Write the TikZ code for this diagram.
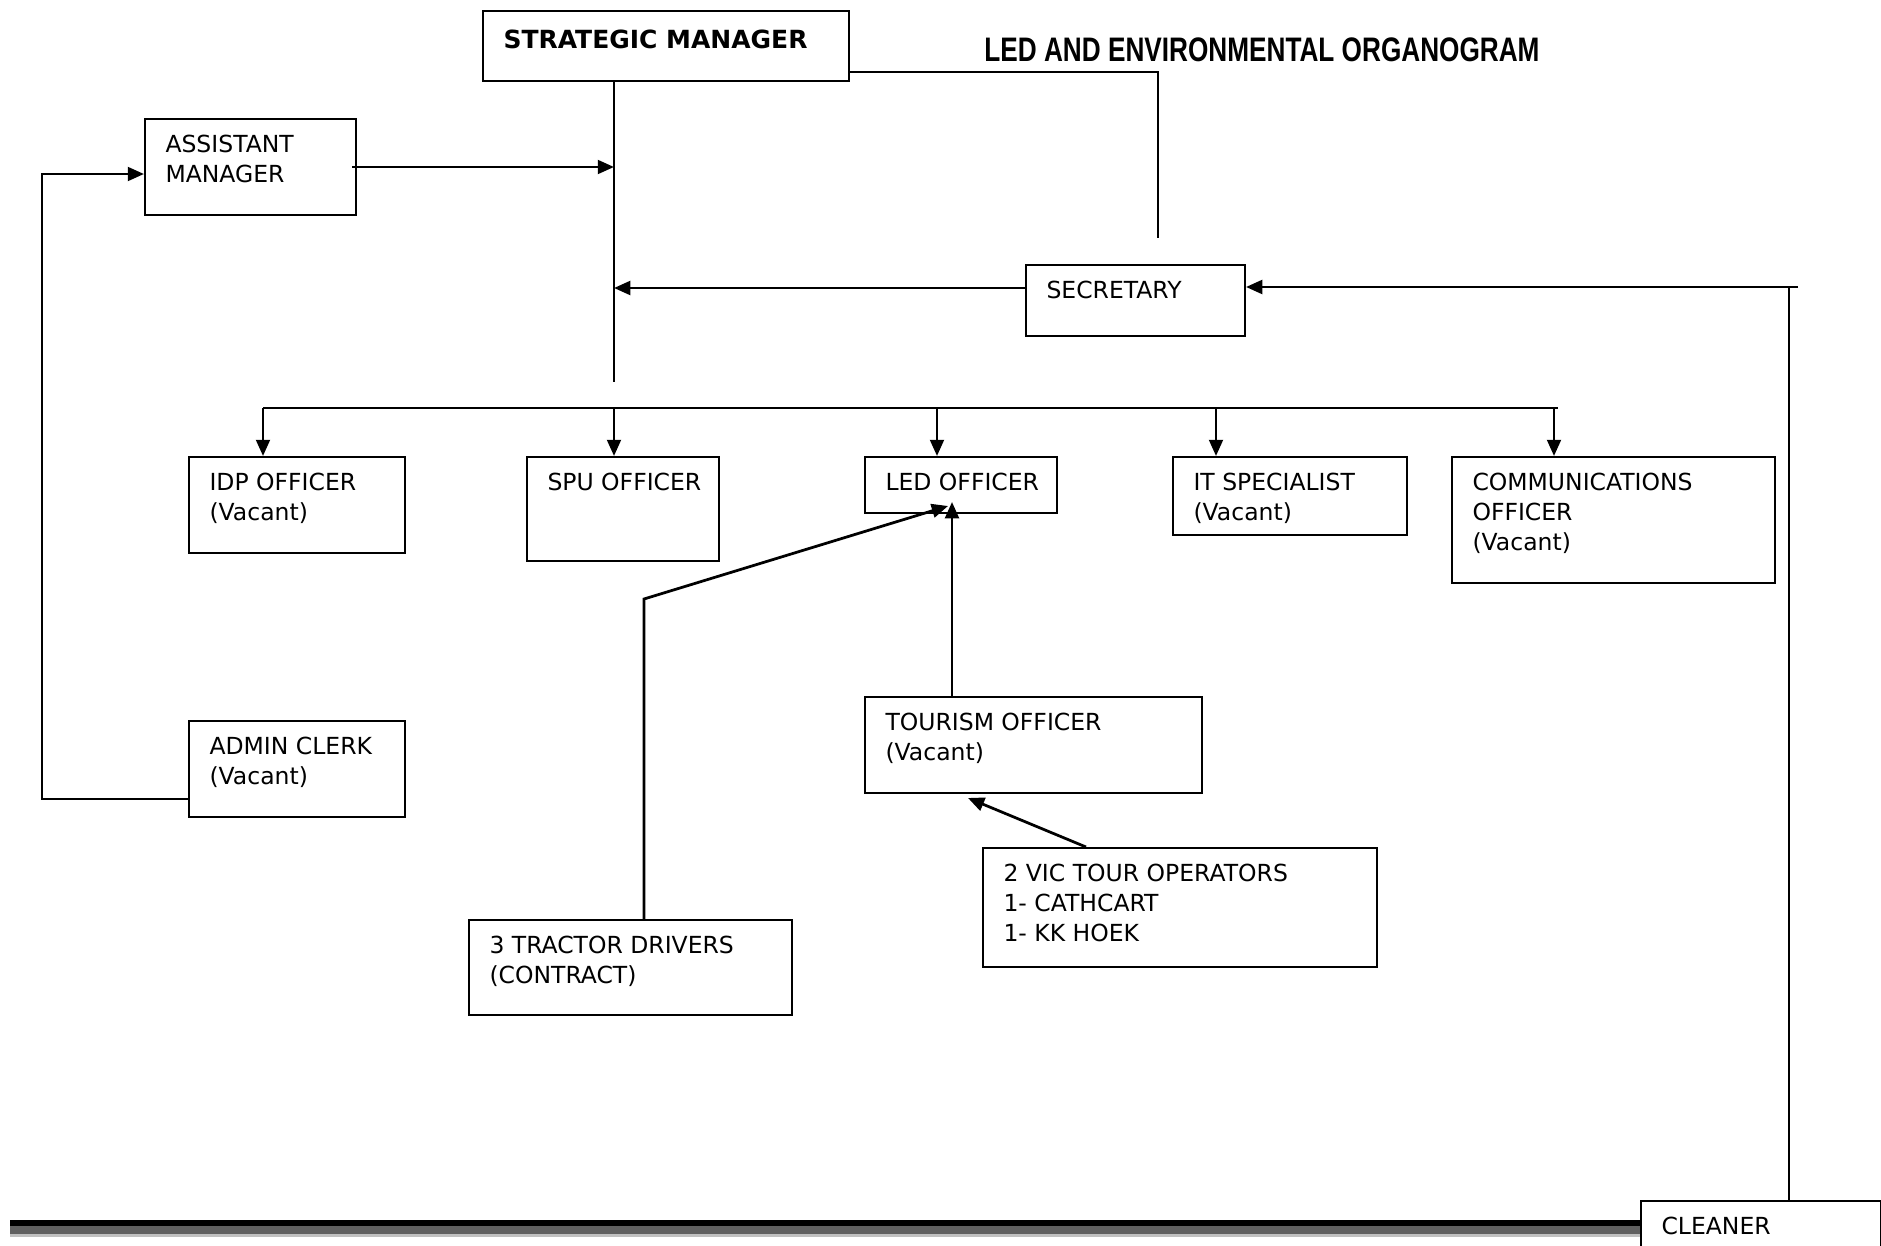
\documentclass[tikz,border=0pt]{standalone}
\usepackage{fontspec}
\usepackage{graphicx}
\usetikzlibrary{arrows.meta}
\setmainfont{DejaVu Sans}
\newfontfamily\titlefont{Liberation Sans}
\definecolor{barmid}{HTML}{606060}
\definecolor{barlight}{HTML}{C0C0C0}

% one post: name, left, top, width, height, text
\newcommand{\orgpost}[6]{%
  \node[post, minimum width=#4*0.4pt, minimum height=#5*0.4pt] (#1) at (#2,#3) {};
  \node[posttext] (#1-label) at ([shift={(21,17)}]#1.north west) {#6};}

\begin{document}
\begin{tikzpicture}[x=0.4pt, y=-0.4pt,
  post/.style={draw, line width=0.8pt, anchor=north west, inner sep=0pt, fill=white},
  posttext/.style={anchor=north west, inner sep=0pt, align=left,
                   font=\fontsize{9.4}{12}\selectfont},
  link/.style={line width=1.1pt},
  thin link/.style={line width=0.7pt},
  arr/.style={link, -{Triangle[length=6.5pt, width=5.5pt]}},
]
\clip (0,0) rectangle (1881,1246);
\fill[white] (0,0) rectangle (1881,1246);

% page footer rule
\fill[black]    (10,1220) rectangle (1640,1226);
\fill[barmid]   (10,1226) rectangle (1640,1234);
\fill[barlight] (10,1234) rectangle (1640,1237);

% title
\node[inner sep=0pt, font=\titlefont\bfseries\fontsize{13.6}{16}\selectfont] (title)
  at (1262,50) {\scalebox{0.77}[1]{LED AND ENVIRONMENTAL ORGANOGRAM}};

% head of unit
\node[post, minimum width=366*0.4pt, minimum height=70*0.4pt] (sm) at (482,10) {};
\node[posttext, font=\bfseries\fontsize{10}{12}\selectfont] (sm-label)
  at ([shift={(21,19)}]sm.north west) {STRATEGIC MANAGER};

% posts
\orgpost{am}{144}{118}{211}{96}{ASSISTANT\\MANAGER}
\orgpost{sec}{1025}{264}{219}{71}{SECRETARY}
\orgpost{idp}{188}{456}{216}{96}{IDP OFFICER\\(Vacant)}
\orgpost{spu}{526}{456}{192}{104}{SPU OFFICER}
\orgpost{led}{864}{456}{192}{56}{LED OFFICER}
\orgpost{it}{1172}{456}{234}{78}{IT SPECIALIST\\(Vacant)}
\orgpost{comm}{1451}{456}{323}{126}{COMMUNICATIONS\\OFFICER\\(Vacant)}
\orgpost{tour}{864}{696}{337}{96}{TOURISM OFFICER\\(Vacant)}
\orgpost{adm}{188}{720}{216}{96}{ADMIN CLERK\\(Vacant)}
\orgpost{vic}{982}{847}{394}{119}{2 VIC TOUR OPERATORS\\1- CATHCART\\1- KK HOEK}
\orgpost{trac}{468}{919}{323}{95}{3 TRACTOR DRIVERS\\(CONTRACT)}
\orgpost{cln}{1640}{1200}{240}{80}{CLEANER}

% reporting lines
\coordinate (spine) at (614,382);
\draw[link] (sm.south -| spine) -- (spine);
\coordinate (smtail) at (1158,238);
\draw[thin link] ([yshift=4pt]sm.south east) -| (smtail);
\draw[arr] ([xshift=-2pt]am.east) -- (am.east -| spine);
\draw[arr] ([yshift=5pt]sec.west) -- ([yshift=5pt]sec.west -| spine);

\coordinate (feed) at (1798,287);
\coordinate (cj) at (1789,287);
\draw[arr] (feed) -- (feed -| sec.east);
\draw[thin link] (cj) -- (cj |- cln.north);

% distribution bus
\coordinate (b1) at (263,408);
\coordinate (b2) at (614,408);
\coordinate (b3) at (937,408);
\coordinate (b4) at (1216,408);
\coordinate (b5) at (1554,408);
\coordinate (bend) at (1558,408);
\draw[link] (b1) -- (bend);
\draw[arr] (b1) -- (b1 |- idp.north);
\draw[arr] (b2) -- (b2 |- spu.north);
\draw[arr] (b3) -- (b3 |- led.north);
\draw[arr] (b4) -- (b4 |- it.north);
\draw[arr] (b5) -- (b5 |- comm.north);

% LED sub-units
\coordinate (ledfoot) at (952,502);
\coordinate (ledfoot2) at (948,506);
\coordinate (tbend) at (644,599);
\coordinate (vicx) at (1086,0);
\coordinate (tourfoot) at (968,798);
\draw[arr] (tour.north -| ledfoot) -- (ledfoot);
\draw[arr] (trac.north -| tbend) -- (tbend) -- (ledfoot2);
\draw[arr] (vic.north -| vicx) -- (tourfoot);

% admin clerk to assistant manager
\coordinate (loop) at (42,174);
\draw[arr] ([yshift=-12pt]adm.west) -| (loop) -- (loop -| am.west);
\end{tikzpicture}
\end{document}
